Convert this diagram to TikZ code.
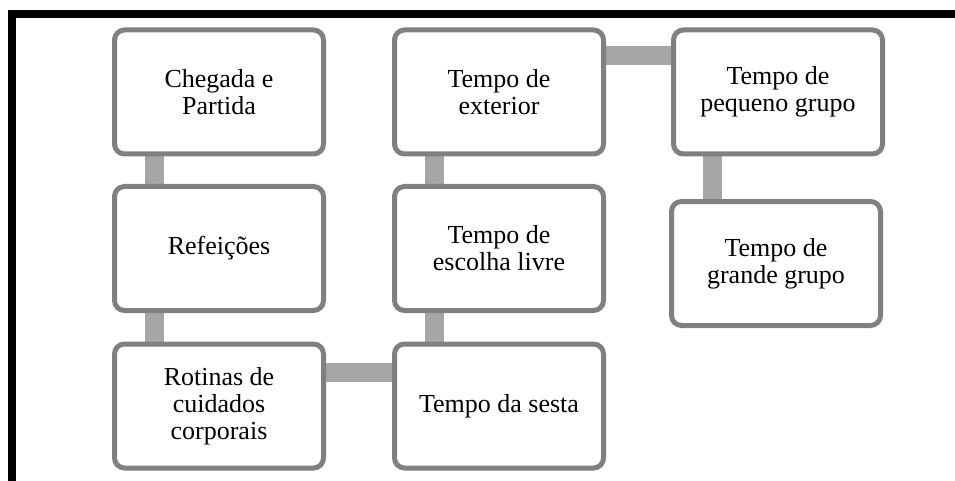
\documentclass[tikz,border=0pt]{standalone}
\usepackage{fontspec}
\setmainfont{Liberation Serif}
\usetikzlibrary{backgrounds}
\definecolor{boxline}{RGB}{128,128,128}
\definecolor{connfill}{RGB}{166,166,166}
\tikzset{
  stepbox/.style={draw=boxline, line width=5pt, fill=white, rounded corners=10pt,
    minimum width=209pt, minimum height=124pt, inner sep=0pt, align=center,
    font=\fontsize{26}{27}\selectfont, text=black},
  conn/.style={draw=connfill, line width=19pt, line cap=butt},
  framebar/.style={fill=black, draw=none}
}
\begin{document}
\begin{tikzpicture}[x=1pt,y=-1pt]
\useasboundingbox (0,0) rectangle (955,481);
% frame
\fill[framebar] (8,10) rectangle (16,481);
\fill[framebar] (8,10) rectangle (955,18);
% boxes
\node[stepbox] (b1) at (219,92) {Chegada e\\Partida};
\node[stepbox] (b2) at (219,248.5) {Refeições};
\node[stepbox] (b3) at (219,406) {Rotinas de\\cuidados\\corporais};
\node[stepbox] (b4) at (499,406) {Tempo da sesta};
\node[stepbox] (b5) at (499,248.5) {Tempo de\\escolha livre};
\node[stepbox] (b6) at (499,92) {Tempo de\\exterior};
\node[stepbox] (b7) at (778,92) {Tempo de\\pequeno grupo};
\node[stepbox] (b8) at (776,263.5) {Tempo de\\grande grupo};
\coordinate (c34) at ([yshift=-30.5pt]b3.north east);
\coordinate (c67) at ([yshift=-28.5pt]b6.north east);
\coordinate (c78) at ([xshift=41pt]b7.south west);
\begin{pgfonlayer}{background}
\draw[conn] ([xshift=42.5pt]b1.south west) -- ([xshift=42.5pt]b2.north west);
\draw[conn] ([xshift=42.5pt]b2.south west) -- ([xshift=42.5pt]b3.north west);
\draw[conn] (c34) -- (c34 -| b4.west);
\draw[conn] ([xshift=42pt]b4.north west) -- ([xshift=42pt]b5.south west);
\draw[conn] ([xshift=42pt]b5.north west) -- ([xshift=42pt]b6.south west);
\draw[conn] (c67) -- (c67 -| b7.west);
\draw[conn] (c78) -- (c78 |- b8.north);
\end{pgfonlayer}
\end{tikzpicture}
\end{document}
